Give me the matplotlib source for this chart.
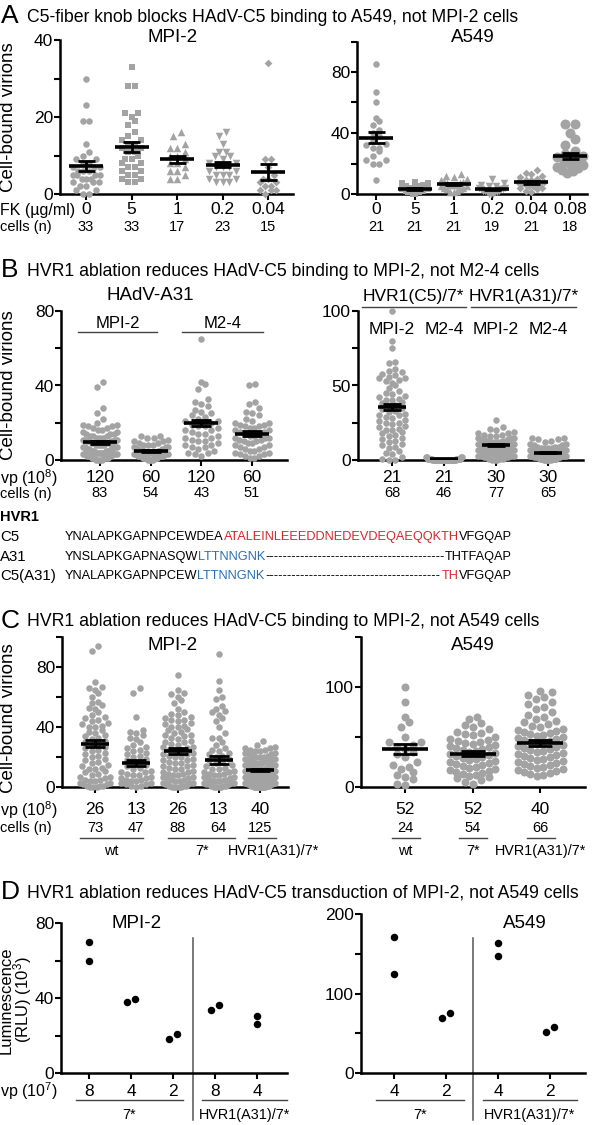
import numpy as np
import matplotlib
matplotlib.use("Agg")
import matplotlib.pyplot as plt
from matplotlib import transforms

plt.rcParams["font.family"] = ["Liberation Sans", "DejaVu Sans"]
plt.rcParams["mathtext.default"] = "regular"

W, H = 614, 1125
GRAY = "#a3a3a3"
RED = "#d7262e"
BLUE = "#2a6fb2"

# ── A: fiber knob competition ────────────────────────────────────────────────
fk_mpi_labels = ["0", "5", "1", "0.2", "0.04"]
fk_mpi_cells = ["33", "33", "17", "23", "15"]
fk_mpi = [
    [30, 23, 19, 19, 13, 11, 10, 9, 9, 8, 8, 7, 7, 7, 6, 6, 6, 5, 5, 5, 5, 4, 4, 4, 3, 3, 3, 2, 2, 1, 1, 0, 0],
    [33, 28, 28, 21, 21, 20, 19, 18, 16, 15, 14, 14, 13, 13, 12, 12, 11, 11, 10, 9, 9, 8, 8, 7, 7, 6, 6, 5, 5, 4, 4, 3, 3],
    [16, 15, 13, 12, 12, 11, 10, 10, 9, 8, 8, 7, 6, 6, 5, 4, 4],
    [16, 15, 13, 11, 11, 10, 10, 9, 8, 8, 7, 7, 7, 6, 6, 5, 5, 5, 4, 4, 3, 3, 3],
    [34, 9, 9, 7, 5, 4, 4, 3, 3, 2, 2, 1, 1, 1, 0],
]
fk_mpi_mean = [7.3, 12.3, 9.0, 7.6, 5.8]
fk_mpi_sem = [1.2, 1.3, 0.9, 0.7, 2.1]

fk_a549_labels = ["0", "5", "1", "0.2", "0.04", "0.08"]
fk_a549_cells = ["21", "21", "21", "19", "21", "18"]
fk_a549 = [
    [85, 67, 60, 50, 48, 45, 42, 40, 38, 35, 33, 32, 30, 30, 28, 25, 22, 22, 20, 20, 9],
    [8, 7, 7, 6, 5, 5, 4, 4, 3, 3, 3, 3, 2, 2, 2, 1, 1, 1, 1, 0, 0],
    [13, 12, 11, 10, 9, 8, 8, 7, 7, 6, 6, 6, 5, 5, 4, 4, 3, 3, 2, 1, 1],
    [10, 7, 6, 5, 5, 4, 4, 3, 3, 3, 2, 2, 2, 1, 1, 1, 0, 0, 0],
    [16, 14, 13, 12, 11, 10, 9, 9, 8, 8, 7, 7, 6, 6, 5, 5, 4, 4, 3, 2, 1],
    [46, 46, 40, 36, 32, 28, 26, 25, 24, 22, 21, 20, 19, 18, 17, 16, 15, 14],
]
fk_a549_mean = [37.0, 3.2, 6.5, 3.0, 7.6, 25.0]
fk_a549_sem = [3.5, 0.5, 0.8, 0.6, 0.9, 2.2]

# ── B: HAdV-A31 and HVR1 swaps ───────────────────────────────────────────────
a31_vp = ["120", "60", "120", "60"]
a31_cells = ["83", "54", "43", "51"]
a31 = [
    [42, 39, 28, 25, 22, 20, 19, 19, 18, 18, 17, 17, 16, 16, 15, 15, 14, 14, 14, 13, 13, 13, 12, 12, 12,
     11, 11, 11, 11, 10, 10, 10, 10, 9, 9, 9, 9, 8, 8, 8, 8, 8, 7, 7, 7, 7, 7, 6, 6, 6, 6, 6,
     5, 5, 5, 5, 5, 5, 4, 4, 4, 4, 4, 4, 3, 3, 3, 3, 3, 2, 2, 2, 2, 2, 1, 1, 1, 1, 1, 0, 0, 0, 0],
    [13, 13, 12, 12, 11, 10, 10, 9, 9, 8, 8, 8, 7, 7, 7, 6, 6, 6, 6, 5, 5, 5, 5, 5, 4, 4, 4, 4, 4, 4,
     3, 3, 3, 3, 3, 3, 2, 2, 2, 2, 2, 2, 2, 1, 1, 1, 1, 1, 1, 1, 0, 0, 0, 0],
    [65, 42, 41, 38, 33, 31, 30, 29, 27, 26, 25, 24, 23, 22, 21, 21, 20, 19, 18, 18, 17, 16, 16, 15,
     14, 14, 13, 12, 12, 11, 10, 10, 9, 8, 8, 7, 7, 6, 5, 4, 4, 3, 2],
    [41, 40, 31, 30, 28, 26, 25, 24, 22, 21, 20, 20, 19, 19, 18, 18, 17, 17, 16, 16, 15, 15, 14, 14,
     13, 13, 12, 12, 12, 11, 11, 10, 10, 9, 9, 8, 8, 7, 7, 6, 6, 5, 5, 4, 4, 3, 3, 2, 2, 1, 1],
]
a31_mean = [9.5, 4.8, 19.8, 14.2]
a31_sem = [0.9, 0.5, 1.7, 1.2]

hvr_vp = ["21", "21", "30", "30"]
hvr_cells = ["68", "46", "77", "65"]
hvr_cell_names = ["MPI-2", "M2-4", "MPI-2", "M2-4"]
hvr = [
    [100, 80, 75, 66, 65, 61, 60, 59, 58, 57, 56, 55, 55, 54, 53, 52, 50, 48, 46, 45, 44, 43, 42, 41,
     40, 40, 39, 38, 37, 36, 35, 34, 33, 32, 31, 30, 30, 29, 28, 27, 26, 25, 25, 24, 23, 22, 21, 20,
     20, 19, 18, 17, 16, 15, 14, 13, 12, 11, 10, 9, 8, 6, 5, 4, 2, 1, 0, 0],
    [2, 2, 2, 2, 1, 1, 1, 1, 1, 1, 1, 1, 1, 1, 1, 1, 0, 0, 0, 0, 0, 0, 0, 0, 0, 0, 0, 0, 0, 0, 0, 0,
     0, 0, 0, 0, 0, 0, 0, 0, 0, 0, 0, 0, 0, 0],
    [27, 22, 21, 20, 19, 18, 18, 17, 17, 16, 16, 15, 15, 15, 14, 14, 14, 13, 13, 13, 13, 12, 12, 12,
     12, 11, 11, 11, 11, 11, 10, 10, 10, 10, 10, 9, 9, 9, 9, 9, 8, 8, 8, 8, 8, 7, 7, 7, 7, 7, 6, 6, 6,
     6, 6, 5, 5, 5, 5, 4, 4, 4, 4, 3, 3, 3, 3, 2, 2, 2, 2, 1, 1, 1, 0, 0, 0],
    [15, 15, 14, 14, 13, 12, 11, 11, 10, 10, 9, 9, 9, 8, 8, 8, 8, 7, 7, 7, 7, 6, 6, 6, 6, 6, 5, 5, 5,
     5, 5, 5, 4, 4, 4, 4, 4, 4, 3, 3, 3, 3, 3, 3, 3, 2, 2, 2, 2, 2, 2, 2, 1, 1, 1, 1, 1, 1, 1,
     0, 0, 0, 0, 0, 0],
]
hvr_mean = [35.5, 0.5, 10.0, 5.0]
hvr_sem = [2.2, 0.1, 0.6, 0.5]

# HVR1 sequences: (text, colour) segments
seq_c5 = [("YNALAPKGAPNPCEWDEA", "k"), ("ATALEINLEEEDDNEDEVDEQAEQQKTH", RED), ("VFGQAP", "k")]
seq_a31_left = [("YNSLAPKGAPNASQW", "k"), ("LTTNNGNK", BLUE)]
seq_a31_right = [("THTFAQAP", "k")]
seq_swap_left = [("YNALAPKGAPNPCEW", "k"), ("LTTNNGNK", BLUE)]
seq_swap_right = [("TH", RED), ("VFGQAP", "k")]

# ── C: binding of HVR1 mutants ───────────────────────────────────────────────
c_mpi_vp = ["26", "13", "26", "13", "40"]
c_mpi_cells = ["73", "47", "88", "64", "125"]
c_mpi = [
    [94, 91, 70, 67, 66, 65, 63, 60, 57, 56, 55, 53, 52, 50, 48, 47, 46, 45, 44, 43, 42, 41, 40, 40,
     38, 37, 36, 35, 34, 33, 32, 31, 30, 29, 28, 27, 26, 25, 24, 23, 22, 21, 20, 19, 18, 17, 16, 15,
     14, 13, 12, 12, 11, 10, 9, 8, 7, 7, 6, 5, 5, 4, 4, 3, 3, 2, 2, 1, 1, 1, 0, 0, 0],
    [66, 63, 47, 38, 37, 36, 35, 33, 32, 30, 28, 27, 26, 25, 24, 23, 22, 21, 20, 19, 18, 17, 16, 15,
     14, 13, 12, 11, 10, 10, 9, 8, 8, 7, 6, 6, 5, 5, 4, 4, 3, 3, 2, 2, 1, 1, 0],
    [75, 65, 63, 62, 60, 58, 56, 52, 50, 49, 48, 47, 46, 45, 45, 44, 43, 42, 41, 40, 40, 39, 38, 37,
     36, 35, 35, 34, 33, 32, 31, 30, 30, 29, 28, 27, 27, 26, 25, 25, 24, 23, 22, 22, 21, 20, 20, 19,
     18, 18, 17, 16, 16, 15, 14, 14, 13, 12, 12, 11, 10, 10, 9, 9, 8, 8, 7, 7, 6, 6, 5, 5, 4, 4, 3,
     3, 3, 2, 2, 2, 1, 1, 1, 0, 0, 0, 0, 0],
    [89, 71, 65, 60, 59, 54, 52, 51, 50, 48, 46, 44, 40, 36, 33, 33, 30, 28, 26, 25, 24, 23, 22, 21,
     20, 19, 18, 17, 16, 15, 14, 13, 12, 12, 11, 10, 10, 9, 9, 8, 8, 7, 7, 6, 6, 5, 5, 5, 4, 4, 4, 3,
     3, 3, 2, 2, 2, 1, 1, 1, 0, 0, 0, 0],
    [31, 28, 27, 26, 26, 25, 25, 24, 24, 23, 23, 22, 22, 21, 21, 20, 20, 20, 19, 19, 19, 18, 18, 18,
     17, 17, 17, 16, 16, 16, 15, 15, 15, 15, 14, 14, 14, 14, 13, 13, 13, 13, 12, 12, 12, 12, 12, 11,
     11, 11, 11, 11, 10, 10, 10, 10, 10, 10, 9, 9, 9, 9, 9, 9, 8, 8, 8, 8, 8, 8, 7, 7, 7, 7, 7, 7, 6,
     6, 6, 6, 6, 6, 5, 5, 5, 5, 5, 5, 4, 4, 4, 4, 4, 4, 3, 3, 3, 3, 3, 3, 2, 2, 2, 2, 2, 2, 1, 1, 1,
     1, 1, 1, 1, 0, 0, 0, 0, 0, 0, 0, 0, 0, 0, 0, 0],
]
c_mpi_mean = [29.0, 16.0, 24.0, 18.0, 11.5]
c_mpi_sem = [2.4, 2.0, 1.8, 2.4, 0.7]

c_a549_vp = ["52", "52", "40"]
c_a549_cells = ["24", "54", "66"]
c_a549 = [
    [100, 85, 70, 65, 60, 50, 45, 45, 42, 40, 38, 35, 33, 30, 25, 22, 20, 18, 15, 12, 10, 8, 3, 2],
    [70, 68, 64, 62, 60, 58, 55, 54, 53, 52, 50, 48, 47, 46, 45, 44, 43, 42, 41, 40, 39, 38, 37, 36,
     35, 34, 33, 32, 31, 30, 29, 28, 27, 26, 25, 24, 23, 22, 21, 20, 19, 18, 17, 16, 15, 14, 13, 12,
     11, 10, 9, 7, 5, 3],
    [96, 95, 92, 90, 88, 85, 83, 80, 78, 75, 72, 70, 68, 66, 65, 63, 61, 60, 58, 57, 56, 55, 54, 53,
     52, 51, 50, 49, 48, 47, 46, 45, 44, 43, 42, 41, 40, 39, 38, 37, 36, 35, 34, 33, 32, 31, 30, 29,
     28, 27, 26, 25, 24, 23, 22, 21, 20, 19, 18, 17, 16, 15, 14, 13, 12, 11],
]
c_a549_mean = [38.0, 33.5, 44.5]
c_a549_sem = [5.2, 2.2, 3.0]

# ── D: transduction (luciferase) ─────────────────────────────────────────────
d_mpi_vp = ["8", "4", "2", "8", "4"]
d_mpi = [[70, 60], [38, 39.5], [18, 21], [33.5, 36.5], [30.5, 26]]
d_a549_vp = ["4", "2", "4", "2"]
d_a549 = [[171, 124], [69, 75], [164, 147], [51, 58]]


fig = plt.figure(figsize=(W / 100, H / 100), dpi=100)
lay = fig.add_axes([0, 0, 1, 1])
lay.set_xlim(0, W)
lay.set_ylim(H, 0)
lay.axis("off")


def new_ax(x0, x1, ybot, ytop, ylim, n, first, last, yticks, ylabels):
    ax = fig.add_axes([x0 / W, 1 - ybot / H, (x1 - x0) / W, (ybot - ytop) / H])
    step = (last - first) / (n - 1)
    ax.set_xlim(-(first - x0) / step, (n - 1) + (x1 - last) / step)
    ax.set_ylim(*ylim)
    ax.patch.set_alpha(0)
    for s in ["top", "right"]:
        ax.spines[s].set_visible(False)
    for s in ["left", "bottom"]:
        ax.spines[s].set_linewidth(1.8)
    ax.tick_params(width=1.5, length=4, labelsize=12.5, pad=1)
    ax.set_xticks(np.arange(n))
    ax.set_xticklabels([])
    ax.set_yticks(yticks)
    ax.set_yticklabels(ylabels)
    return ax


def swarm(ax, xpos, vals, diam, maxw):
    # rows of near-equal values spread symmetrically, GraphPad style
    ppy = ax.bbox.height / np.diff(ax.get_ylim())[0]
    ppx = ax.bbox.width / np.diff(ax.get_xlim())[0]
    v = np.sort(np.asarray(vals, float))
    rows, cur, start = [], [], None
    for i, val in enumerate(v):
        if start is None or (val - start) * ppy >= 0.9 * diam:
            if cur:
                rows.append(cur)
            cur, start = [i], val
        else:
            cur.append(i)
    rows.append(cur)
    xs = np.zeros_like(v)
    for r in rows:
        k = len(r)
        step = min(diam, maxw / max(k - 1, 1))
        offs = (np.arange(k) - (k - 1) / 2) * step
        order = np.argsort(np.abs(offs), kind="stable")
        for j, idx in zip(order, r):
            xs[idx] = xpos + offs[j] / ppx
    return xs, v


def dots(ax, groups, diam, maxw, markers=None, sizes=None, color=GRAY):
    for i, vals in enumerate(groups):
        d = diam if sizes is None else sizes[i]
        xs, ys = swarm(ax, i, vals, d, maxw)
        m = "o" if markers is None else markers[i]
        ax.scatter(xs, ys, s=(d * 0.72) ** 2, marker=m, color=color, lw=0, clip_on=False, zorder=3)


def mean_sem(ax, means, sems, hm, hc):
    ppx = ax.bbox.width / np.diff(ax.get_xlim())[0]
    for i, (m, s) in enumerate(zip(means, sems)):
        ax.hlines(m, i - hm / ppx, i + hm / ppx, color="k", lw=2.6, zorder=5)
        ax.hlines([m - s, m + s], i - hc / ppx, i + hc / ppx, color="k", lw=2, zorder=5)
        ax.vlines(i, m - s, m + s, color="k", lw=2, zorder=5)


def mix(ax):
    return transforms.blended_transform_factory(ax.transData, lay.transData)


def group_text(ax, labels, ypx, size):
    for i, s in enumerate(labels):
        ax.text(i, ypx, s, transform=mix(ax), ha="center", va="center", fontsize=size)


def bracket(ax, xa, xb, ypx, label=None, ylab=None, size=10.4, xlab=None):
    ax.plot([xa, xb], [ypx, ypx], transform=mix(ax), color="#444444", lw=1, clip_on=False)
    if label:
        xl = (xa + xb) / 2 if xlab is None else xlab
        ax.text(xl, ylab, label, transform=mix(ax), ha="center", va="center", fontsize=size)


def txt(x, y, s, size=12.5, ha="left", **kw):
    return lay.text(x, y, s, fontsize=size, ha=ha, va="center", **kw)


def heading(y, letter, s):
    txt(1, y, letter, size=19)
    txt(27, y + 1, s, size=12.7)


YL = "Cell-bound virions"

# ── Panel A ──────────────────────────────────────────────────────────────────
heading(16, "A", "C5-fiber knob blocks HAdV-C5 binding to A549, not MPI-2 cells")
ax = new_ax(60, 293, 194, 40, (0, 40), 5, 86, 268, [0, 10, 20, 30, 40], ["0", "", "20", "", "40"])
dots(ax, fk_mpi, 6.5, 27, markers=["o", "s", "^", "v", "D"], sizes=[6.5, 6.5, 7.5, 7.5, 5.5])
mean_sem(ax, fk_mpi_mean, fk_mpi_sem, 17, 8.5)
group_text(ax, fk_mpi_labels, 210, 12.5)
group_text(ax, fk_mpi_cells, 227, 10.5)
txt(173, 38, "MPI-2", size=13.5, ha="center")
txt(9, 117, YL, size=13.5, ha="center", rotation=90)
txt(0, 210, "FK (µg/ml)", size=11.5)
txt(0, 227, "cells (n)", size=10.5)

ax = new_ax(357, 587, 194, 41.5, (0, 100), 6, 376, 570, [0, 20, 40, 60, 80, 100],
            ["0", "", "40", "", "80", ""])
dots(ax, fk_a549, 6.5, 26, markers=["o", "s", "^", "v", "D", "o"], sizes=[6.5, 6.5, 7.5, 7.5, 5.5, 10])
mean_sem(ax, fk_a549_mean, fk_a549_sem, 17, 8.5)
group_text(ax, fk_a549_labels, 210, 12.5)
group_text(ax, fk_a549_cells, 227, 10.5)
txt(473, 38, "A549", size=13.5, ha="center")

# ── Panel B ──────────────────────────────────────────────────────────────────
heading(270, "B", "HVR1 ablation reduces HAdV-C5 binding to MPI-2, not M2-4 cells")
ax = new_ax(61, 287, 460, 311, (0, 80), 4, 100, 252, [0, 20, 40, 60, 80], ["0", "", "40", "", "80"])
dots(ax, a31, 6.5, 34)
mean_sem(ax, a31_mean, a31_sem, 17, 10)
group_text(ax, a31_vp, 477, 12.5)
group_text(ax, a31_cells, 493, 10.5)
bracket(ax, -0.43, 1.12, 332, "MPI-2", 323, size=12)
bracket(ax, 1.61, 3.22, 332, "M2-4", 323, size=12)
txt(150, 295, "HAdV-A31", size=13.5, ha="center")
txt(9, 385, YL, size=13.5, ha="center", rotation=90)
txt(0, 478, "vp (10$^{8}$)", size=11.5)
txt(0, 494, "cells (n)", size=10.5)

ax = new_ax(358, 583, 460, 311, (0, 100), 4, 392, 548, [0, 25, 50, 75, 100], ["0", "", "50", "", "100"])
dots(ax, hvr, 6.5, 36)
mean_sem(ax, hvr_mean, hvr_sem, 14, 9)
group_text(ax, hvr_vp, 477, 12.5)
group_text(ax, hvr_cells, 493, 10.5)
group_text(ax, hvr_cell_names, 330, 12.5)
bracket(ax, -0.58, 1.42, 307, "HVR1(C5)/7*", 297, size=12.5)
bracket(ax, 1.52, 3.54, 307, "HVR1(A31)/7*", 297, size=12.5)

# HVR1 sequence alignment
SEQ = 9.2
rend = fig.canvas.get_renderer()
txt(0, 517, "HVR1", size=10.5, fontweight="bold")
for y, s in [(537, "C5"), (557, "A31"), (576, "C5(A31)")]:
    txt(0, y, s, size=10.8)


def run(x, y, segs, ha="left"):
    items = segs if ha == "left" else segs[::-1]
    for s, c in items:
        t = txt(x, y, s, size=SEQ, ha=ha, color=c)
        bb = t.get_window_extent(renderer=rend)
        x = bb.x1 if ha == "left" else bb.x0
    return x


end = run(65, 537, seq_c5)
probe = txt(0, -50, "-" * 20, size=SEQ)
dash_w = probe.get_window_extent(renderer=rend).width / 20
probe.remove()
for y, left, right in [(557, seq_a31_left, seq_a31_right), (576, seq_swap_left, seq_swap_right)]:
    a = run(65, y, left)
    b = run(end, y, right, ha="right")
    txt(a, y, "-" * int(round((b - a) / dash_w)), size=SEQ)

# ── Panel C ──────────────────────────────────────────────────────────────────
heading(621, "C", "HVR1 ablation reduces HAdV-C5 binding to MPI-2, not A549 cells")
ax = new_ax(62, 288, 787, 637, (0, 100), 5, 95, 260, [0, 20, 40, 60, 80, 100],
            ["0", "", "40", "", "80", ""])
dots(ax, c_mpi, 6.5, 30)
mean_sem(ax, c_mpi_mean, c_mpi_sem, 14, 10)
group_text(ax, c_mpi_vp, 810, 12.5)
group_text(ax, c_mpi_cells, 828, 10.5)
bracket(ax, -0.36, 1.17, 838, "wt", 851)
bracket(ax, 1.78, 3.4, 838, "7*", 851)
bracket(ax, 3.7, 4.38, 838, "HVR1(A31)/7*", 851, xlab=4.34)
txt(173, 645, "MPI-2", size=13.5, ha="center")
txt(9, 718, YL, size=13.5, ha="center", rotation=90)
txt(0, 810, "vp (10$^{8}$)", size=11.5)
txt(0, 828, "cells (n)", size=10.5)

ax = new_ax(361, 585, 787, 637, (0, 150), 3, 405, 540, [0, 50, 100, 150], ["0", "", "100", ""])
dots(ax, c_a549, 8, 45)
mean_sem(ax, c_a549_mean, c_a549_sem, 23, 12)
group_text(ax, c_a549_vp, 810, 12.5)
group_text(ax, c_a549_cells, 828, 10.5)
for i, lab in enumerate(["wt", "7*", "HVR1(A31)/7*"]):
    bracket(ax, i - 0.2, i + 0.22, 838, lab, 851)
txt(473, 645, "A549", size=13.5, ha="center")

# ── Panel D ──────────────────────────────────────────────────────────────────
heading(892, "D", "HVR1 ablation reduces HAdV-C5 transduction of MPI-2, not A549 cells")
ax = new_ax(61, 287, 1073, 923, (0, 80), 5, 89, 257, [0, 20, 40, 60, 80], ["0", "", "40", "", "80"])
dots(ax, d_mpi, 7.5, 20, color="k")
group_text(ax, d_mpi_vp, 1091, 12.5)
ax.plot([2.48, 2.48], [938, 1120], transform=mix(ax), color="#555555", lw=1.1, clip_on=False)
bracket(ax, -0.31, 2.24, 1100, "7*", 1115)
bracket(ax, 2.69, 4.71, 1100, "HVR1(A31)/7*", 1115)
txt(137, 923, "MPI-2", size=13.5, ha="center")
txt(16, 1000, "Luminescence\n(RLU) (10$^{3}$)", size=12, ha="center", rotation=90, linespacing=0.85)
txt(0, 1091, "vp (10$^{7}$)", size=11.5)

ax = new_ax(361, 585, 1073, 914, (0, 200), 4, 394, 550, [0, 50, 100, 150, 200],
            ["0", "", "100", "", "200"])
dots(ax, d_a549, 7.5, 20, color="k")
group_text(ax, d_a549_vp, 1091, 12.5)
ax.plot([1.52, 1.52], [938, 1120], transform=mix(ax), color="#555555", lw=1.1, clip_on=False)
bracket(ax, -0.35, 1.35, 1100, "7*", 1115)
bracket(ax, 1.71, 3.52, 1100, "HVR1(A31)/7*", 1115)
txt(525, 923, "A549", size=13.5, ha="center")

fig.savefig("out.png", dpi=100)
